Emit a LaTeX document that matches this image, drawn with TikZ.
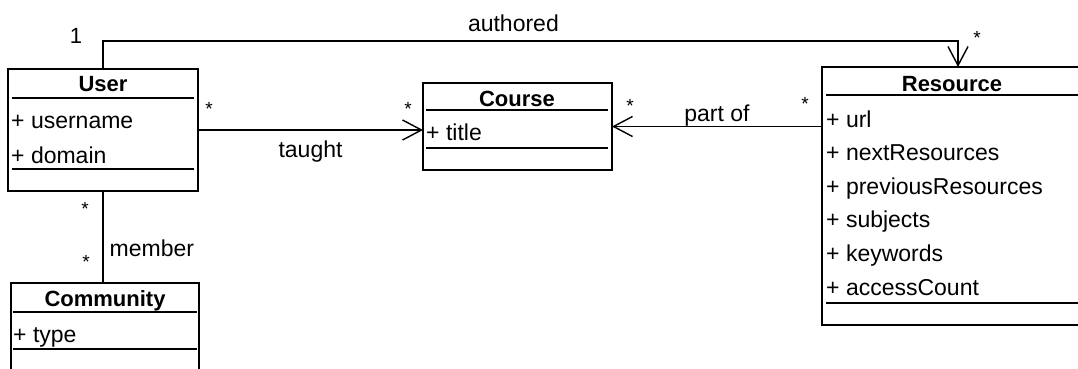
\documentclass[tikz,border=0pt]{standalone}
\usepackage{fontspec}
\setmainfont{Liberation Sans}
\usetikzlibrary{arrows.meta}

\tikzset{
  classbox/.style={draw, line width=1.4pt, inner sep=0pt, outer sep=0pt},
  compsep/.style={line width=1.4pt},
  ctitle/.style={font=\fontsize{22}{26}\selectfont\bfseries, anchor=base, inner sep=0pt},
  attr/.style={font=\fontsize{23}{27}\selectfont, anchor=base west, inner sep=0pt},
  assoc/.style={line width=1.4pt},
  navig/.style={assoc, -{Straight Barb[length=19pt, width=20pt, line width=1.4pt]}},
  mult/.style={font=\fontsize{19}{23}\selectfont, anchor=north, inner sep=0pt},
  role/.style={font=\fontsize{23}{27}\selectfont, inner sep=0pt},
}

\begin{document}
\begin{tikzpicture}[x=1pt, y=-1pt]
  \useasboundingbox (0,0) rectangle (1078,369);
  \clip (0,0) rectangle (1078,369);

  % class boxes
  \node[classbox, minimum width=190pt, minimum height=122pt] (user)   at (103,130)     {};
  \node[classbox, minimum width=189pt, minimum height=87pt]  (course) at (517.5,126.5) {};
  \node[classbox, minimum width=260pt, minimum height=258pt] (res)    at (952,196)     {};
  \node[classbox, minimum width=188pt, minimum height=89pt]  (comm)   at (105,327.5)   {};

  % User
  \node[ctitle] (user-t) at (103,92) {User};
  \draw[compsep] (12,98)  -- (194,98);
  \node[attr] (user-a0) at (11,128) {+ username};
  \node[attr] (user-a1) at (11,163) {+ domain};
  \draw[compsep] (12,169) -- (194,169);

  % Course
  \node[ctitle] (course-t) at (517,106) {Course};
  \draw[compsep] (426,110) -- (608,110);
  \node[attr] (course-a0) at (426,140) {+ title};
  \draw[compsep] (426,148) -- (608,148);

  % Resource
  \node[ctitle] (res-t) at (952,91) {Resource};
  \draw[compsep] (826,95) -- (1080,95);
  \foreach \a [count=\i from 0] in {url, nextResources, previousResources,
                                    subjects, keywords, accessCount}
    \node[attr] (res-a\i) at (826,127+33.6*\i) {+ \a};
  \draw[compsep] (826,303) -- (1080,303);

  % Community
  \node[ctitle] (comm-t) at (105,306) {Community};
  \draw[compsep] (13,312) -- (197,312);
  \node[attr] (comm-a0) at (13,342) {+ type};
  \draw[compsep] (13,349) -- (197,349);

  % associations
  \coordinate (top) at (0,41);
  \draw[navig] (user.north) |- node[role, pos=0.74, above=9pt] (authored) {authored}
    ([xshift=6pt]res.north |- top) -- ([xshift=6pt]res.north);
  \draw[navig] (user.east) -- node[role, below=10pt] (taught) {taught}
    (user.east -| course.west);
  \draw[navig] (res.west |- course.east) -- node[role, above=0pt] (partof) {part of}
    (course.east);
  \draw[assoc] (user.south) -- node[role, pos=0.62, anchor=west, xshift=6pt] (member) {member}
    (user.south |- comm.north);

  % multiplicities
  \node[mult, font=\fontsize{22}{26}\selectfont] (m-auth-u) at (76,28) {1};
  \node[mult] (m-auth-r) at (977,31) {*};
  \node[mult] (m-teach-u) at (209,102) {*};
  \node[mult] (m-teach-c) at (408,102) {*};
  \node[mult] (m-part-c) at (630,99) {*};
  \node[mult] (m-part-r) at (805,97)  {*};
  \node[mult] (m-mem-u) at (85,202)  {*};
  \node[mult] (m-mem-c) at (86,255)  {*};
\end{tikzpicture}
\end{document}
